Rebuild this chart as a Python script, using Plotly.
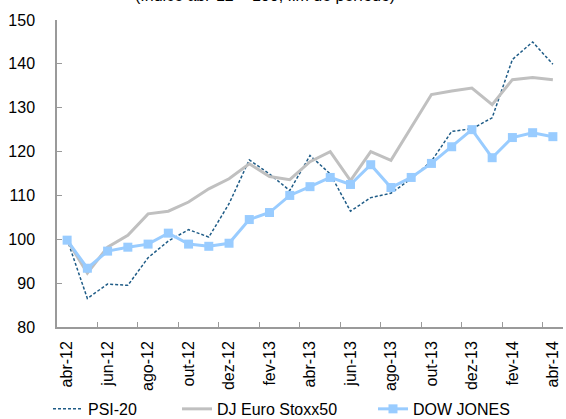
import plotly.graph_objects as go

months = ["abr-12", "mai-12", "jun-12", "jul-12", "ago-12", "set-12", "out-12", "nov-12",
          "dez-12", "jan-13", "fev-13", "mar-13", "abr-13", "mai-13", "jun-13", "jul-13",
          "ago-13", "set-13", "out-13", "nov-13", "dez-13", "jan-14", "fev-14", "mar-14",
          "abr-14"]

psi20 = [100.0, 86.5, 89.8, 89.5, 95.8, 99.6, 102.2, 100.5, 108.1, 118.1, 114.9, 111.1,
         119.1, 114.9, 106.4, 109.5, 110.5, 113.8, 117.8, 124.6, 125.2, 127.7, 141.0,
         145.0, 139.9]

stoxx50 = [99.8, 92.3, 98.2, 100.9, 105.8, 106.4, 108.5, 111.5, 113.8, 117.2, 114.3,
           113.6, 117.7, 120.0, 113.4, 120.0, 118.0, 125.5, 133.0, 133.8, 134.5, 130.7,
           136.4, 136.9, 136.4]

dow_jones = [99.8, 93.4, 97.3, 98.2, 98.9, 101.4, 98.9, 98.4, 99.1, 104.5, 106.1, 110.0,
             112.0, 114.1, 112.5, 117.0, 111.8, 114.1, 117.3, 121.1, 125.0, 118.6, 123.2,
             124.3, 123.4]

FONT = "Liberation Sans, Arial, sans-serif"
AXIS_COLOR = "#9A9A9A"

fig = go.Figure()
fig.add_trace(go.Scatter(
    x=months, y=psi20, name="PSI-20", mode="lines",
    line=dict(color="#1F5C87", width=1.5, dash="3px,2px"),
    legend="legend"
))
fig.add_trace(go.Scatter(
    x=months, y=stoxx50, name="DJ Euro Stoxx50", mode="lines",
    line=dict(color="#C0C0C0", width=3),
    legend="legend2"
))
fig.add_trace(go.Scatter(
    x=months, y=dow_jones, name="DOW JONES", mode="lines+markers",
    line=dict(color="#99CCFF", width=3),
    marker=dict(symbol="square", size=9, color="#99CCFF"),
    legend="legend3"
))

legend_style = dict(orientation="h", xref="container", yref="container",
                    yanchor="middle", y=0.024, xanchor="left",
                    bgcolor="rgba(0,0,0,0)", font=dict(family=FONT, size=16, color="#000000"))

fig.update_layout(
    width=566, height=419,
    margin=dict(l=57, r=3, t=19.5, b=92),
    plot_bgcolor="white", paper_bgcolor="white",
    font=dict(family=FONT, size=16, color="#000000"),
    showlegend=True,
    legend=dict(x=0.0848, **legend_style),
    legend2=dict(x=0.3127, **legend_style),
    legend3=dict(x=0.659, **legend_style),
    annotations=[dict(
        text="(índice abr-12 = 100, fim de período)", xref="paper", yref="paper",
        x=0.411, y=1.046, xanchor="center", yanchor="bottom", showarrow=False,
        font=dict(family=FONT, size=16, color="#000000")
    )],
    xaxis=dict(
        type="category", range=[-0.5, 24.5], dtick=2, tick0=0,
        tickson="boundaries", ticks="inside", ticklen=5, tickcolor=AXIS_COLOR,
        tickangle=-90, ticklabelstandoff=6, automargin=False,
        showline=True, linecolor=AXIS_COLOR, linewidth=1.5,
        showgrid=False, zeroline=False,
        tickfont=dict(family=FONT, size=16, color="#000000")
    ),
    yaxis=dict(
        range=[80, 150], dtick=10, ticks="inside", ticklen=5, tickcolor=AXIS_COLOR,
        ticklabelstandoff=17, automargin=False,
        showline=True, linecolor=AXIS_COLOR, linewidth=1.5,
        showgrid=False, zeroline=False,
        tickfont=dict(family=FONT, size=16, color="#000000")
    ),
)

# the page has a default 8px body margin; drop it so the figure sits at the corner
fig.write_html("out.html", config={"displayModeBar": False},
               post_script="document.body.style.margin = '0';")
